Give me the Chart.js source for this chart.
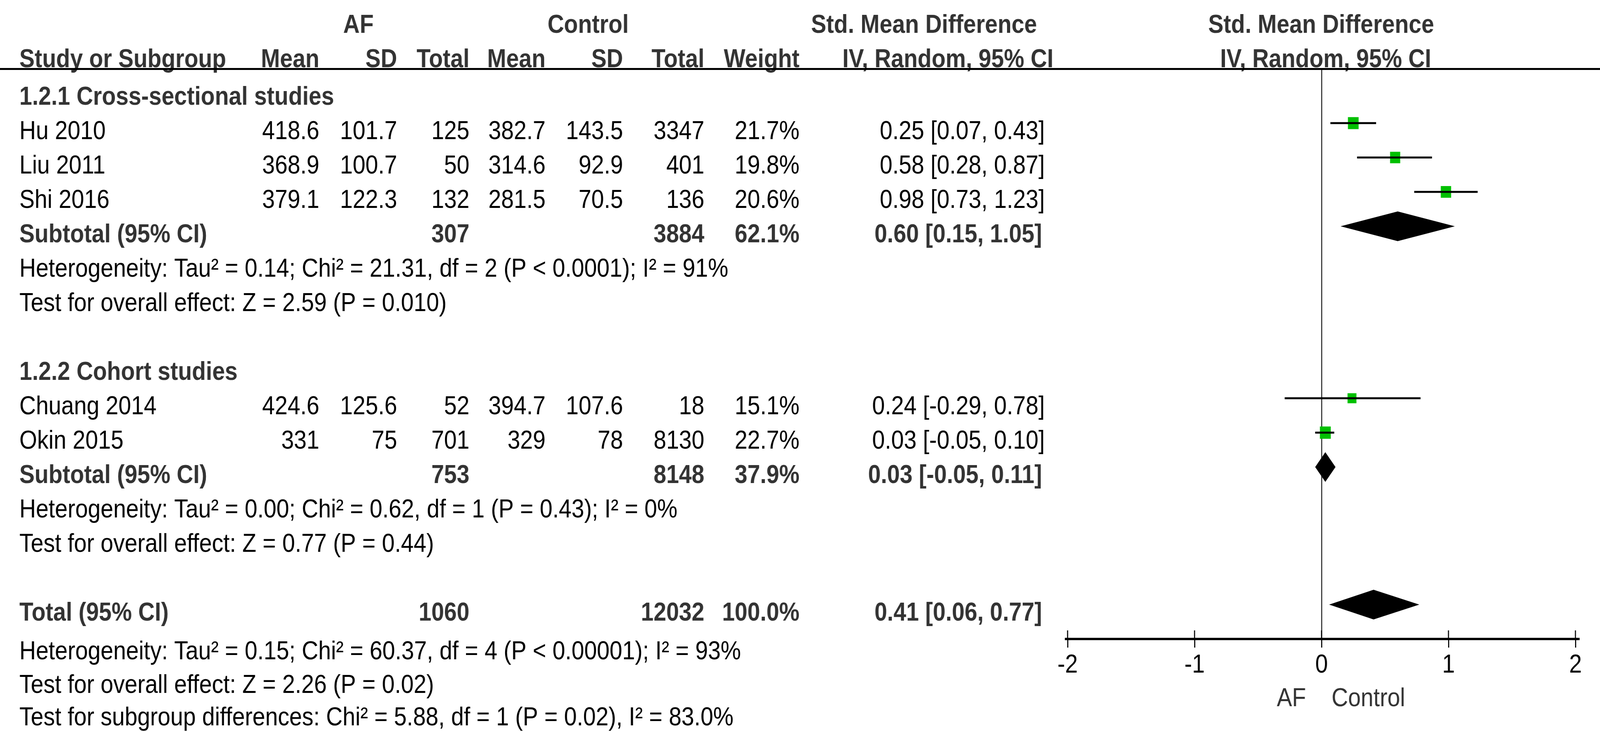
<!DOCTYPE html>
<html><head><meta charset="utf-8">
<script src="https://cdn.jsdelivr.net/npm/chart.js@4.4.1/dist/chart.umd.min.js"></script>
<style>html,body{margin:0;padding:0;background:#fff;overflow:hidden;width:100%;height:100%}canvas{display:block}</style>
</head><body>
<div id="wrap" style="position:relative"><canvas id="c" width="4625" height="1873"></canvas></div>
<script>
// ---------------- DATA ----------------
const studies   = ['Hu 2010', 'Liu 2011', 'Shi 2016', 'Chuang 2014', 'Okin 2015'];
const afMean    = [418.6, 368.9, 379.1, 424.6, 331];
const afSD      = [101.7, 100.7, 122.3, 125.6, 75];
const afTotal   = [125, 50, 132, 52, 701];
const ctrlMean  = [382.7, 314.6, 281.5, 394.7, 329];
const ctrlSD    = [143.5, 92.9, 70.5, 107.6, 78];
const ctrlTotal = [3347, 401, 136, 18, 8130];
const weights   = [21.7, 19.8, 20.6, 15.1, 22.7];
const smd       = [0.25, 0.58, 0.98, 0.24, 0.03];
const ciLow     = [0.07, 0.28, 0.73, -0.29, -0.05];
const ciHigh    = [0.43, 0.87, 1.23, 0.78, 0.10];

const subgroupNames = ['1.2.1 Cross-sectional studies', '1.2.2 Cohort studies'];
const subAfTotal    = [307, 753];
const subCtrlTotal  = [3884, 8148];
const subWeight     = [62.1, 37.9];
const subSmd        = [0.60, 0.03];
const subLow        = [0.15, -0.05];
const subHigh       = [1.05, 0.11];
const subHet = ['Heterogeneity: Tau² = 0.14; Chi² = 21.31, df = 2 (P < 0.0001); I² = 91%',
                'Heterogeneity: Tau² = 0.00; Chi² = 0.62, df = 1 (P = 0.43); I² = 0%'];
const subTest = ['Test for overall effect: Z = 2.59 (P = 0.010)',
                 'Test for overall effect: Z = 0.77 (P = 0.44)'];

const totalAf = 1060, totalCtrl = 12032, totalWeight = 100.0;
const totalSmd = 0.41, totalLow = 0.06, totalHigh = 0.77;
const footerLines = ['Heterogeneity: Tau² = 0.15; Chi² = 60.37, df = 4 (P < 0.00001); I² = 93%',
                     'Test for overall effect: Z = 2.26 (P = 0.02)',
                     'Test for subgroup differences: Chi² = 5.88, df = 1 (P = 0.02), I² = 83.0%'];
const xTicks = [-2, -1, 0, 1, 2];
const favourLeft = 'AF', favourRight = 'Control';

// ---------------- LAYOUT (row slots) ----------------
const studyRow = [1, 2, 3, 9, 10];
const groupRow = [0, 8];
const subRow   = [4, 11];
const hetRow   = [5, 12];
const testRow  = [6, 13];
const totalRow = 15;
const footerRow = [16.12, 17.1, 18.05];

const FONT = "'Liberation Sans', Arial, Helvetica, sans-serif";
const FS = 66;
const TEXT_DY = 41;     // row mark -> text baseline
const col = { name: 56, afMean: 923, afSD: 1148, afTot: 1357, cMean: 1577, cSD: 1801, cTot: 2036, w: 2311, ci: 3020, ciBold: 3012 };

function fmt2(v){ return v.toFixed(2); }
function ciText(e, l, h){ return fmt2(e) + ' [' + fmt2(l) + ', ' + fmt2(h) + ']'; }

function txt(ctx, s, x, y, align, bold, color){
  ctx.font = (bold ? 'bold ' : '') + FS + 'px ' + FONT;
  ctx.textAlign = align; ctx.textBaseline = 'alphabetic';
  ctx.fillStyle = color; ctx.fillText(s, x, y);
}

const forestPlugin = {
  id: 'forest',
  beforeDraw(chart){
    const ctx = chart.ctx; ctx.save(); ctx.fillStyle = '#fff';
    ctx.fillRect(0, 0, chart.width, chart.height); ctx.restore();
  },
  afterDatasetsDraw(chart){
    const ctx = chart.ctx, xs = chart.scales.x, ys = chart.scales.y;
    ctx.save();
    ctx.fillStyle = '#000';
    const diamonds = subSmd.map((e, i) => [e, subLow[i], subHigh[i], subRow[i]]);
    diamonds.push([totalSmd, totalLow, totalHigh, totalRow]);
    diamonds.forEach(([e, l, h, r]) => {
      const y = ys.getPixelForValue(r), hh = 38;
      ctx.beginPath();
      ctx.moveTo(xs.getPixelForValue(l), y);
      ctx.lineTo(xs.getPixelForValue(e), y - hh);
      ctx.lineTo(xs.getPixelForValue(h), y);
      ctx.lineTo(xs.getPixelForValue(e), y + hh);
      ctx.closePath(); ctx.fill();
    });
    ctx.restore();
  },
  afterDraw(chart){
    const ctx = chart.ctx, xs = chart.scales.x, ys = chart.scales.y;
    const B = '#000', G = '#333';
    ctx.save();
    // ticks above axis and small axis overhang
    ctx.strokeStyle = '#000'; ctx.lineWidth = 3;
    xTicks.forEach(v => {
      const px = xs.getPixelForValue(v);
      ctx.beginPath(); ctx.moveTo(px, xs.top - 22); ctx.lineTo(px, xs.top); ctx.stroke();
    });
    ctx.fillStyle = '#000';
    ctx.fillRect(xs.left - 8, xs.top - 3, 10, 6);
    ctx.fillRect(xs.right - 2, xs.top - 3, 14, 6);
    // header
    txt(ctx, 'AF', 1036, 84, 'center', true, G);
    txt(ctx, 'Control', 1700, 84, 'center', true, G);
    txt(ctx, 'Std. Mean Difference', 2671, 84, 'center', true, G);
    txt(ctx, 'Std. Mean Difference', 3819, 84, 'center', true, G);
    const hy = 172;
    txt(ctx, 'Study or Subgroup', col.name, hy, 'left', true, G);
    txt(ctx, 'Mean', col.afMean, hy, 'right', true, G);
    txt(ctx, 'SD', col.afSD, hy, 'right', true, G);
    txt(ctx, 'Total', col.afTot, hy, 'right', true, G);
    txt(ctx, 'Mean', col.cMean, hy, 'right', true, G);
    txt(ctx, 'SD', col.cSD, hy, 'right', true, G);
    txt(ctx, 'Total', col.cTot, hy, 'right', true, G);
    txt(ctx, 'Weight', col.w, hy, 'right', true, G);
    txt(ctx, 'IV, Random, 95% CI', 2740, hy, 'center', true, G);
    txt(ctx, 'IV, Random, 95% CI', 3832, hy, 'center', true, G);
    ctx.fillStyle = '#000'; ctx.fillRect(0, 174, chart.width, 5);

    const Y = r => ys.getPixelForValue(r) + TEXT_DY;
    subgroupNames.forEach((n, i) => txt(ctx, n, col.name, Y(groupRow[i]), 'left', true, G));
    studies.forEach((n, i) => {
      const y = Y(studyRow[i]);
      txt(ctx, n, col.name, y, 'left', false, B);
      txt(ctx, String(afMean[i]), col.afMean, y, 'right', false, B);
      txt(ctx, String(afSD[i]), col.afSD, y, 'right', false, B);
      txt(ctx, String(afTotal[i]), col.afTot, y, 'right', false, B);
      txt(ctx, String(ctrlMean[i]), col.cMean, y, 'right', false, B);
      txt(ctx, String(ctrlSD[i]), col.cSD, y, 'right', false, B);
      txt(ctx, String(ctrlTotal[i]), col.cTot, y, 'right', false, B);
      txt(ctx, weights[i].toFixed(1) + '%', col.w, y, 'right', false, B);
      txt(ctx, ciText(smd[i], ciLow[i], ciHigh[i]), col.ci, y, 'right', false, B);
    });
    subRow.forEach((r, i) => {
      const y = Y(r);
      txt(ctx, 'Subtotal (95% CI)', col.name, y, 'left', true, G);
      txt(ctx, String(subAfTotal[i]), col.afTot, y, 'right', true, G);
      txt(ctx, String(subCtrlTotal[i]), col.cTot, y, 'right', true, G);
      txt(ctx, subWeight[i].toFixed(1) + '%', col.w, y, 'right', true, G);
      txt(ctx, ciText(subSmd[i], subLow[i], subHigh[i]), col.ciBold, y, 'right', true, G);
      txt(ctx, subHet[i], col.name, Y(hetRow[i]), 'left', false, B);
      txt(ctx, subTest[i], col.name, Y(testRow[i]), 'left', false, B);
    });
    const ty = Y(totalRow);
    txt(ctx, 'Total (95% CI)', col.name, ty, 'left', true, G);
    txt(ctx, String(totalAf), col.afTot, ty, 'right', true, G);
    txt(ctx, String(totalCtrl), col.cTot, ty, 'right', true, G);
    txt(ctx, totalWeight.toFixed(1) + '%', col.w, ty, 'right', true, G);
    txt(ctx, ciText(totalSmd, totalLow, totalHigh), col.ciBold, ty, 'right', true, G);
    footerLines.forEach((s, i) => txt(ctx, s, col.name, Y(footerRow[i]), 'left', false, B));

    const zx = xs.getPixelForValue(0);
    txt(ctx, favourLeft, zx - 45, 1807, 'right', false, G);
    txt(ctx, favourRight, zx + 29, 1807, 'left', false, G);
    ctx.restore();
  }
};

const datasets = [];
studies.forEach((n, i) => {
  datasets.push({ type: 'line', label: n + ' CI',
    data: [{x: ciLow[i], y: studyRow[i]}, {x: ciHigh[i], y: studyRow[i]}],
    borderColor: '#000', borderWidth: 5, pointRadius: 0, fill: false, tension: 0 });
});
datasets.push({ type: 'scatter', label: 'SMD',
  data: smd.map((v, i) => ({x: v, y: studyRow[i]})),
  pointStyle: 'rect',
  pointRadius: weights.map(w => 6.6 * Math.sqrt(w) / 1.414),
  backgroundColor: '#00c000', borderWidth: 0 });

// fit the 4625x1873 drawing to the actual viewport
const cv = document.getElementById('c');
const vw = window.innerWidth || 4625, vh = window.innerHeight || 1873;
const wrap = document.getElementById('wrap');
wrap.style.width = vw + 'px'; wrap.style.height = vh + 'px';
cv.style.width = vw + 'px'; cv.style.height = vh + 'px';

new Chart(cv, {
  type: 'scatter',
  data: { datasets },
  plugins: [forestPlugin],
  options: {
    responsive: false, maintainAspectRatio: false, devicePixelRatio: 1, animation: false,
    layout: { padding: { left: 3086, right: 71, top: 176, bottom: 0 } },
    plugins: { legend: { display: false }, tooltip: { enabled: false } },
    scales: {
      x: {
        type: 'linear', min: -2, max: 2, position: 'bottom',
        afterBuildTicks: s => { s.ticks = xTicks.map(v => ({ value: v })); },
        afterFit: s => { s.height = 238; },
        border: { display: true, color: '#000', width: 6 },
        grid: {
          color: c => (c.tick && c.tick.value === 0) ? '#333' : 'rgba(0,0,0,0)',
          lineWidth: 3, drawTicks: true, tickLength: 22, tickColor: '#000', tickWidth: 3
        },
        ticks: { color: '#000', padding: 6, font: { family: FONT, size: FS }, callback: v => String(v) }
      },
      y: { type: 'linear', display: false, reverse: true, min: -0.58, max: 16.0 }
    }
  }
});
</script>
</body></html>
